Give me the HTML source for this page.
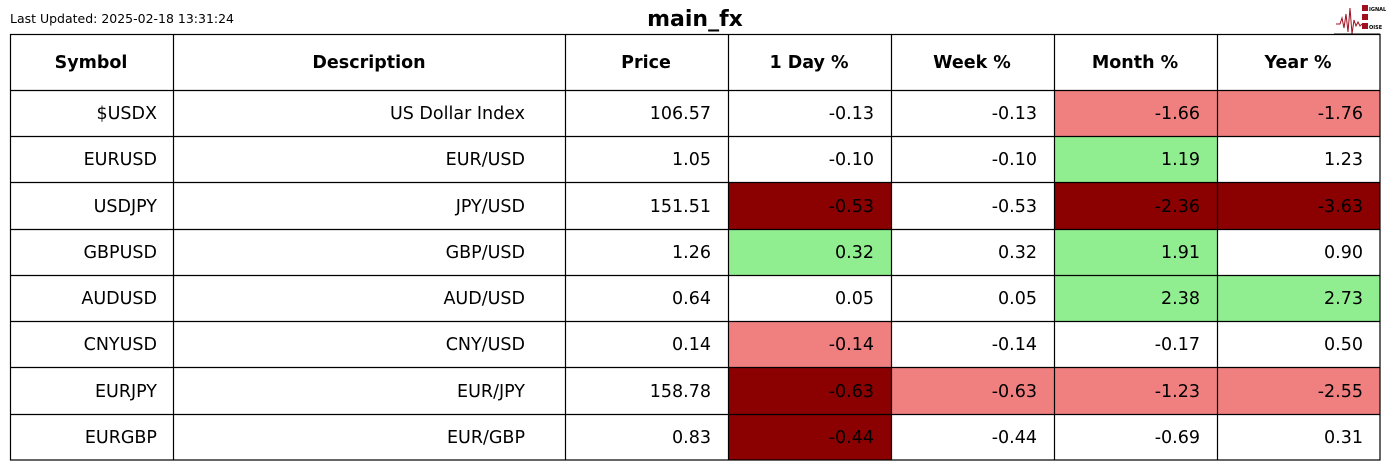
<!DOCTYPE html>
<html><head><meta charset="utf-8"><style>
body{margin:0;background:#fff}
svg{display:block;font-family:"DejaVu Sans",sans-serif}
</style></head><body>
<svg width="1390" height="470" xmlns="http://www.w3.org/2000/svg">
<rect width="1390" height="470" fill="#fff"/>
<text x="10" y="23" font-size="12" textLength="224" lengthAdjust="spacingAndGlyphs">Last Updated: 2025-02-18 13:31:24</text>
<text x="695" y="26" font-size="22" font-weight="bold" text-anchor="middle">main_fx</text>
<g transform="translate(1334,4)">
<polyline points="2,20 6,20 8,14 10,24 12,10 14,28 16,4 18,30 20,16 22,22 24,18 26,22 28,20" fill="none" stroke="#a01020" stroke-width="1"/>
<rect x="28" y="1" width="6" height="6" fill="#a01020"/><rect x="28" y="10" width="6" height="6" fill="#a01020"/><rect x="28" y="19" width="6" height="6" fill="#a01020"/>
<text x="35" y="7" font-size="5" font-weight="bold">IGNAL</text>
<text x="35" y="25" font-size="5" font-weight="bold">OISE</text>
<line x1="0" y1="30" x2="46" y2="30" stroke="#000"/>
</g>
<g>
<rect x="1054" y="90" width="163" height="46" fill="#f08080"/>
<rect x="1217" y="90" width="163" height="46" fill="#f08080"/>
<rect x="1054" y="136" width="163" height="46" fill="#90ee90"/>
<rect x="728" y="182" width="163" height="47" fill="#8b0000"/>
<rect x="1054" y="182" width="163" height="47" fill="#8b0000"/>
<rect x="1217" y="182" width="163" height="47" fill="#8b0000"/>
<rect x="728" y="229" width="163" height="46" fill="#90ee90"/>
<rect x="1054" y="229" width="163" height="46" fill="#90ee90"/>
<rect x="1054" y="275" width="163" height="46" fill="#90ee90"/>
<rect x="1217" y="275" width="163" height="46" fill="#90ee90"/>
<rect x="728" y="321" width="163" height="46" fill="#f08080"/>
<rect x="728" y="367" width="163" height="47" fill="#8b0000"/>
<rect x="891" y="367" width="163" height="47" fill="#f08080"/>
<rect x="1054" y="367" width="163" height="47" fill="#f08080"/>
<rect x="1217" y="367" width="163" height="47" fill="#f08080"/>
<rect x="728" y="414" width="163" height="46" fill="#8b0000"/>
</g>
<g stroke="#000" stroke-width="1.2" fill="none">
<rect x="10.5" y="34.5" width="1369.5" height="425.5"/>
<line x1="173.5" y1="34" x2="173.5" y2="460"/>
<line x1="565.5" y1="34" x2="565.5" y2="460"/>
<line x1="728.5" y1="34" x2="728.5" y2="460"/>
<line x1="891.5" y1="34" x2="891.5" y2="460"/>
<line x1="1054.5" y1="34" x2="1054.5" y2="460"/>
<line x1="1217.5" y1="34" x2="1217.5" y2="460"/>
<line x1="10" y1="90.5" x2="1380" y2="90.5"/>
<line x1="10" y1="136.5" x2="1380" y2="136.5"/>
<line x1="10" y1="182.5" x2="1380" y2="182.5"/>
<line x1="10" y1="229.5" x2="1380" y2="229.5"/>
<line x1="10" y1="275.5" x2="1380" y2="275.5"/>
<line x1="10" y1="321.5" x2="1380" y2="321.5"/>
<line x1="10" y1="367.5" x2="1380" y2="367.5"/>
<line x1="10" y1="414.5" x2="1380" y2="414.5"/>
</g>
<g font-size="17.5" font-weight="bold" text-anchor="middle">
<text x="91" y="68">Symbol</text><text x="369" y="68">Description</text><text x="646" y="68">Price</text>
<text x="809" y="68">1 Day %</text><text x="972" y="68">Week %</text><text x="1135" y="68">Month %</text><text x="1298" y="68">Year %</text>
</g>
<g font-size="17.5" text-anchor="end">
<text x="157" y="119">$USDX</text><text x="525" y="119">US Dollar Index</text><text x="711" y="119">106.57</text><text x="874" y="119">-0.13</text><text x="1037" y="119">-0.13</text><text x="1200" y="119">-1.66</text><text x="1363" y="119">-1.76</text>
<text x="157" y="165">EURUSD</text><text x="525" y="165">EUR/USD</text><text x="711" y="165">1.05</text><text x="874" y="165">-0.10</text><text x="1037" y="165">-0.10</text><text x="1200" y="165">1.19</text><text x="1363" y="165">1.23</text>
<text x="157" y="212">USDJPY</text><text x="525" y="212">JPY/USD</text><text x="711" y="212">151.51</text><text x="874" y="212">-0.53</text><text x="1037" y="212">-0.53</text><text x="1200" y="212">-2.36</text><text x="1363" y="212">-3.63</text>
<text x="157" y="258">GBPUSD</text><text x="525" y="258">GBP/USD</text><text x="711" y="258">1.26</text><text x="874" y="258">0.32</text><text x="1037" y="258">0.32</text><text x="1200" y="258">1.91</text><text x="1363" y="258">0.90</text>
<text x="157" y="304">AUDUSD</text><text x="525" y="304">AUD/USD</text><text x="711" y="304">0.64</text><text x="874" y="304">0.05</text><text x="1037" y="304">0.05</text><text x="1200" y="304">2.38</text><text x="1363" y="304">2.73</text>
<text x="157" y="350">CNYUSD</text><text x="525" y="350">CNY/USD</text><text x="711" y="350">0.14</text><text x="874" y="350">-0.14</text><text x="1037" y="350">-0.14</text><text x="1200" y="350">-0.17</text><text x="1363" y="350">0.50</text>
<text x="157" y="397">EURJPY</text><text x="525" y="397">EUR/JPY</text><text x="711" y="397">158.78</text><text x="874" y="397">-0.63</text><text x="1037" y="397">-0.63</text><text x="1200" y="397">-1.23</text><text x="1363" y="397">-2.55</text>
<text x="157" y="443">EURGBP</text><text x="525" y="443">EUR/GBP</text><text x="711" y="443">0.83</text><text x="874" y="443">-0.44</text><text x="1037" y="443">-0.44</text><text x="1200" y="443">-0.69</text><text x="1363" y="443">0.31</text>
</g>
</svg>
</body></html>
